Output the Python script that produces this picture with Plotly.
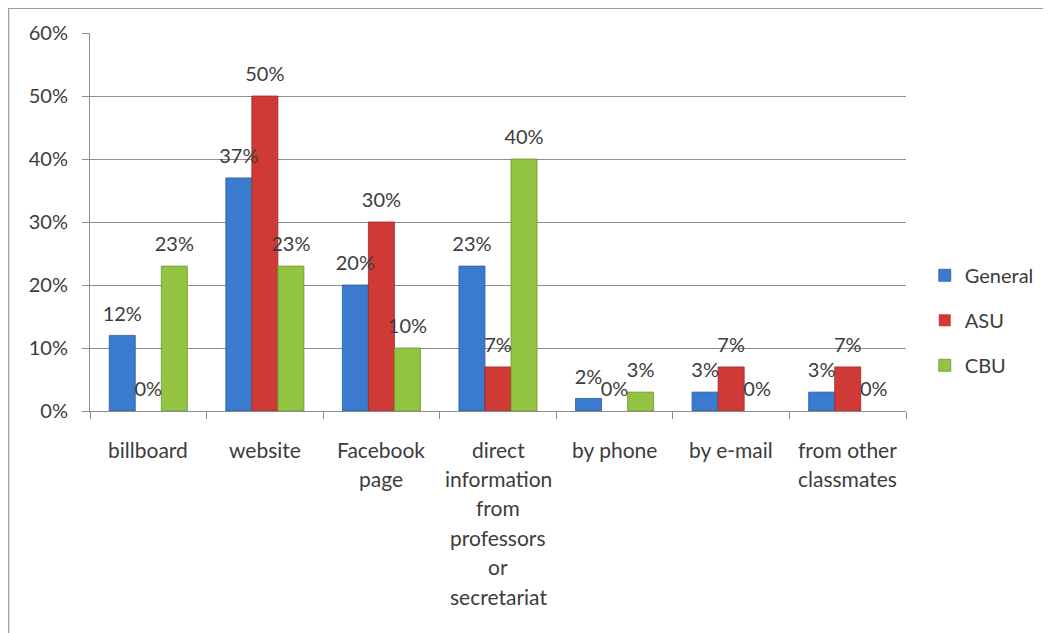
import plotly.graph_objects as go

CATEGORIES = [
    "billboard",
    "website",
    "Facebook<br>page",
    "direct<br>information<br>from<br>professors<br>or<br>secretariat",
    "by phone",
    "by e-mail",
    "from other<br>classmates",
]
SERIES = ["General", "ASU", "CBU"]
GENERAL = [12, 37, 20, 23, 2, 3, 3]
ASU = [0, 50, 30, 7, 0, 7, 7]
CBU = [23, 23, 10, 40, 3, 0, 0]
Y_TICKS = [0, 10, 20, 30, 40, 50, 60]
Y_TICK_LABELS = ["0%", "10%", "20%", "30%", "40%", "50%", "60%"]

COLORS = {"General": "#3B7BCF", "ASU": "#D03A36", "CBU": "#92C441"}
EDGES = {"General": "#2B5D9E", "ASU": "#9E2A27", "CBU": "#6E9630"}
FONT = "Lato, 'Open Sans', sans-serif"
TXT = "#3c3c3c"

# page body has an 8px margin, so the figure is a bit smaller than the window
W, H = 1043, 625
L, R, T, B = 82, 143, 25, 222
PW, PH = W - L - R, H - T - B

fig = go.Figure()
for name, vals in zip(SERIES, [GENERAL, ASU, CBU]):
    # no outline on empty bars, Excel draws nothing there
    widths = [0.8 if v else 0 for v in vals]
    fig.add_trace(go.Bar(
        x=CATEGORIES, y=vals, name=name, offsetgroup=name,
        marker=dict(color=COLORS[name], line=dict(color=EDGES[name], width=widths)),
        legendgroup=name,
    ))
for name, vals in zip(SERIES, [GENERAL, ASU, CBU]):
    fig.add_trace(go.Scatter(
        x=CATEGORIES, y=vals, mode="markers+text", offsetgroup=name,
        text=[f"{v}%" for v in vals], textposition="top center",
        textfont=dict(family=FONT, size=20, color=TXT),
        marker=dict(size=14, opacity=0),
        showlegend=False, legendgroup=name, cliponaxis=False, hoverinfo="skip",
    ))

# multi-line category labels, one annotation per line for Excel-like spacing
annotations = []
for cat in CATEGORIES:
    for i, line in enumerate(cat.split("<br>")):
        annotations.append(dict(
            x=cat, xref="x", y=0, yref="paper", yanchor="middle",
            yshift=-38 - i * 29.4, text=line, showarrow=False,
            font=dict(family=FONT, size=21, color=TXT),
        ))

fig.update_layout(
    width=W, height=H,
    margin=dict(l=L, r=R, t=T, b=B),
    barmode="group", bargap=0.33, bargroupgap=0,
    scattermode="group", scattergap=0.33,
    paper_bgcolor="white", plot_bgcolor="white",
    font=dict(family=FONT, size=20, color=TXT),
    legend=dict(x=1.023, xanchor="left", y=0.24, yanchor="middle",
                traceorder="grouped", tracegroupgap=16,
                font=dict(family=FONT, size=20, color=TXT)),
    annotations=annotations,
    shapes=[dict(type="rect", xref="paper", yref="paper",
                 x0=(-L + 0.5) / PW, x1=(W - L - 2) / PW,
                 y0=-(B + 5) / PH, y1=(PH + T - 0.5) / PH,
                 line=dict(color="#9a9a9a", width=1.2), layer="below")],
)
fig.update_xaxes(
    showticklabels=False, ticks="outside", tickson="boundaries", ticklen=7,
    tickcolor="#8c8c8c", showline=True, linecolor="#8c8c8c", linewidth=1,
    showgrid=False,
)
fig.update_yaxes(
    range=[0, 60], tickmode="array", tickvals=Y_TICKS, ticktext=Y_TICK_LABELS,
    ticks="outside", ticklen=7, tickcolor="#8c8c8c", showline=True,
    linecolor="#8c8c8c", gridcolor="#8c8c8c", gridwidth=1, zeroline=False,
    ticklabelstandoff=10,
    tickfont=dict(family=FONT, size=20, color=TXT),
)

fig.write_html("out.html")
